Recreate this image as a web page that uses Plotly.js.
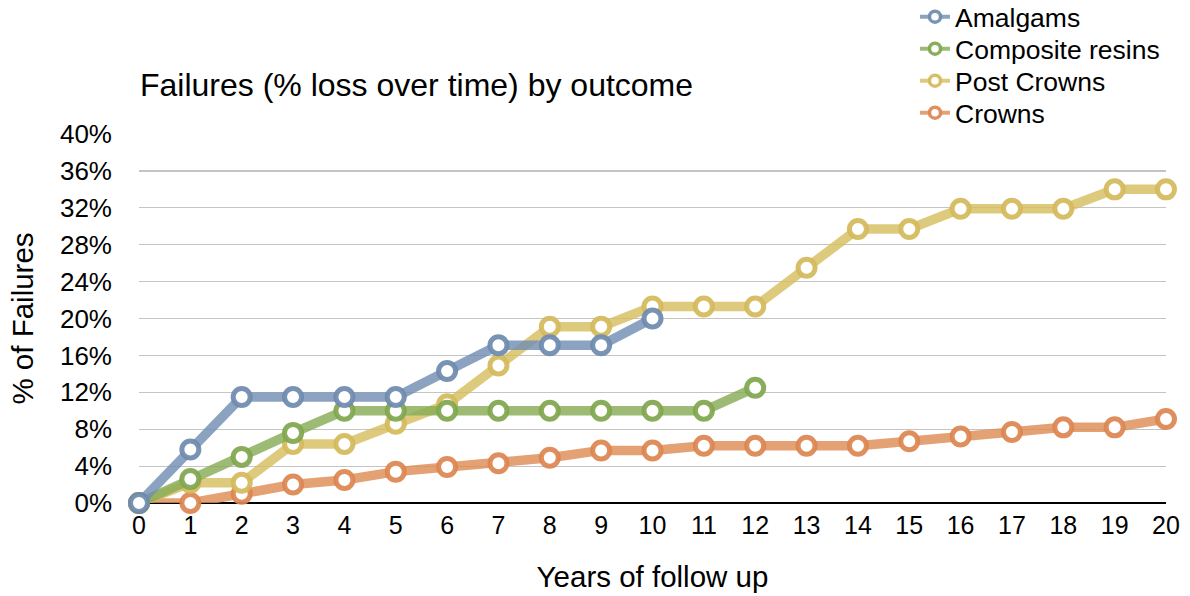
<!DOCTYPE html>
<html>
<head>
<meta charset="utf-8">
<script src="https://cdn.plot.ly/plotly-3.0.1.min.js"></script>
<style>
  html, body { margin: 0; padding: 0; background: #fff; }
  #chart { width: 1190px; height: 596px; }
</style>
</head>
<body>
<div id="chart"></div>
<script>
// Cumulative failure rate (%) per year of follow-up, by restoration type
const years = [0, 1, 2, 3, 4, 5, 6, 7, 8, 9, 10, 11, 12, 13, 14, 15, 16, 17, 18, 19, 20];
const amalgams = [0, 5.8, 11.5, 11.5, 11.5, 11.5, 14.3, 17.1, 17.1, 17.1, 20.0];
const compositeResins = [0, 2.6, 5.0, 7.6, 10.0, 10.0, 10.0, 10.0, 10.0, 10.0, 10.0, 10.0, 12.5];
const postCrowns = [0, 2.2, 2.2, 6.4, 6.4, 8.6, 10.7, 14.9, 19.1, 19.1, 21.3, 21.3, 21.3, 25.5, 29.7, 29.7, 31.9, 31.9, 31.9, 34.0, 34.0];
const crowns = [0, 0, 1.0, 2.0, 2.5, 3.4, 3.9, 4.3, 4.9, 5.7, 5.7, 6.2, 6.2, 6.2, 6.2, 6.7, 7.2, 7.7, 8.2, 8.2, 9.1];

const seriesNames = ['Amalgams', 'Composite resins', 'Post Crowns', 'Crowns'];
const seriesValues = [amalgams, compositeResins, postCrowns, crowns];
const lineColors = ['rgba(114,142,178,0.82)', 'rgba(135,172,86,0.82)', 'rgba(215,190,96,0.82)', 'rgba(222,140,86,0.82)'];
const ringColors = ['rgba(110,138,174,0.92)', 'rgba(128,166,78,0.92)', 'rgba(212,186,90,0.92)', 'rgba(220,134,80,0.92)'];

const FONT = 'Liberation Sans, Arial, Helvetica, sans-serif';

// Data traces: drawn bottom-up so Amalgams sits on top
const traces = [];
for (let i = seriesNames.length - 1; i >= 0; i--) {
  const vals = seriesValues[i];
  traces.push({
    type: 'scatter',
    mode: 'lines+markers',
    name: seriesNames[i],
    x: years.slice(0, vals.length),
    y: vals,
    showlegend: false,
    cliponaxis: false,
    line: { color: lineColors[i], width: 9.5 },
    marker: { symbol: 'circle', size: 17, color: '#ffffff', line: { color: ringColors[i], width: 5 } },
    hoverinfo: 'x+y+name'
  });
}

// One legend box per series, stacked at the top right
const legendIds = ['legend', 'legend2', 'legend3', 'legend4'];
const legendRowsPx = [17, 49, 81, 113];   // row centres from the top of the figure
const plotTop = 134, plotBottom = 503;
const legendBoxes = {};
for (let i = 0; i < seriesNames.length; i++) {
  traces.push({
    type: 'scatter',
    mode: 'lines+markers',
    name: seriesNames[i],
    x: [null],
    y: [null],
    showlegend: true,
    legend: legendIds[i],
    line: { color: lineColors[i], width: 4 },
    marker: { symbol: 'circle', size: 11, color: '#ffffff', line: { color: ringColors[i], width: 3.5 } }
  });
  legendBoxes[legendIds[i]] = {
    x: 0.7556,
    xanchor: 'left',
    y: (plotBottom - legendRowsPx[i]) / (plotBottom - plotTop),
    yanchor: 'middle',
    bgcolor: 'rgba(0,0,0,0)',
    borderwidth: 0,
    font: { family: FONT, size: 26.5, color: '#000000' },
    itemwidth: 30
  };
}

const layout = Object.assign({
  width: 1190,
  height: 596,
  paper_bgcolor: '#ffffff',
  plot_bgcolor: '#ffffff',
  font: { family: FONT, color: '#000000', size: 25 },
  margin: { l: 139, r: 24, t: plotTop, b: 596 - plotBottom, pad: 0, autoexpand: false },
  title: {
    text: 'Failures (% loss over time) by outcome',
    font: { family: FONT, size: 32, color: '#000000' },
    x: 140 / 1190,
    xanchor: 'left',
    xref: 'container',
    y: 1 - 85 / 596,
    yanchor: 'middle',
    yref: 'container'
  },
  xaxis: {
    range: [0, 20],
    tickmode: 'array',
    tickvals: years,
    ticktext: years.map(String),
    showgrid: false,
    zeroline: false,
    showline: false,
    ticks: '',
    tickfont: { family: FONT, size: 25 },
    ticklabelstandoff: 5,
    title: { text: 'Years of follow up', font: { family: FONT, size: 29.5 }, standoff: 28 },
    fixedrange: true
  },
  yaxis: {
    range: [0, 40],
    dtick: 4,
    tick0: 0,
    ticksuffix: '%',
    showgrid: true,
    gridcolor: '#c4c4c4',
    gridwidth: 1.2,
    zeroline: true,
    zerolinecolor: '#000000',
    zerolinewidth: 2.5,
    showline: false,
    ticks: '',
    tickfont: { family: FONT, size: 26 },
    ticklabelstandoff: 26,
    title: { text: '% of Failures', font: { family: FONT, size: 29.5 }, standoff: 17 },
    fixedrange: true
  },
  showlegend: true
}, legendBoxes);

Plotly.newPlot('chart', traces, layout, { displayModeBar: false, staticPlot: true });
</script>
</body>
</html>
